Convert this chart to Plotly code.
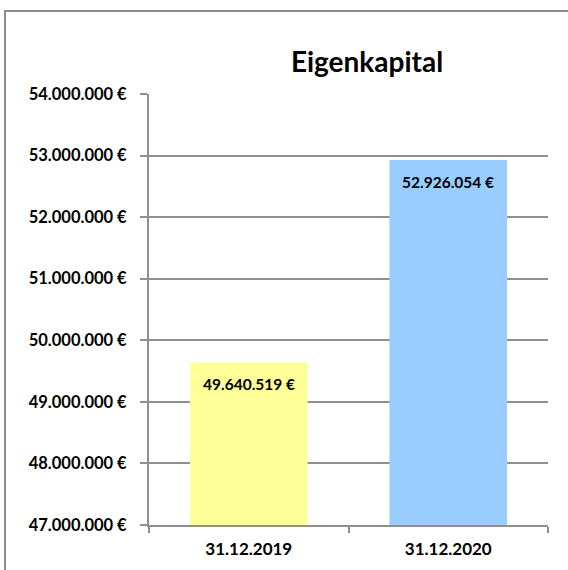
import plotly.graph_objects as go

categories = ["31.12.2019", "31.12.2020"]
values = [49640519, 52926054]
bar_colors = ["#FFFF99", "#99CCFF"]
tick_values = [47000000, 48000000, 49000000, 50000000, 51000000, 52000000, 53000000, 54000000]


def fmt(v):
    return f"{v:,}".replace(",", ".") + " €"


fig = go.Figure()
fig.add_trace(go.Bar(
    x=categories, y=values, marker=dict(color=bar_colors, line=dict(width=0)),
    hoverinfo="skip",
))

for c, v in zip(categories, values):
    fig.add_annotation(
        x=c, y=v, xref="x", yref="y", text=fmt(v), showarrow=False,
        yanchor="middle", yshift=-22,
        font=dict(family="Lato", size=15.5, color="black", weight="bold"),
    )

grid_col = "#8f8f8f"
fig.update_layout(
    width=568, height=570,
    margin=dict(l=149, r=20, t=94, b=45),
    paper_bgcolor="white", plot_bgcolor="white",
    bargap=0.41,
    showlegend=False,
    title=dict(text="<b>Eigenkapital</b>", x=367 / 568, xref="container",
               xanchor="center", y=1 - 62 / 570, yanchor="middle",
               font=dict(family="Lato", size=28, color="black")),
    xaxis=dict(
        type="category", showgrid=False, showline=True, linecolor=grid_col, linewidth=2,
        ticks="outside", tickson="boundaries", ticklen=6, tickcolor=grid_col, tickwidth=2,
        tickfont=dict(family="Lato", size=17, color="black", weight="bold"),
        ticklabelstandoff=8,
    ),
    yaxis=dict(
        range=[47000000, 54000000], tickvals=tick_values,
        ticktext=[fmt(t) for t in tick_values],
        showgrid=True, gridcolor=grid_col, gridwidth=2,
        showline=True, linecolor=grid_col, linewidth=2,
        ticks="outside", ticklen=7, tickcolor=grid_col, tickwidth=2,
        tickfont=dict(family="Lato", size=16.5, color="black", weight="bold"),
        ticklabelstandoff=10, zeroline=False,
    ),
    shapes=[dict(type="rect", xref="paper", yref="paper",
                 x0=(5 - 149) / 399, x1=(600 - 149) / 399,
                 y0=(525 - 600) / 431, y1=(525 - 11) / 431,
                 line=dict(color="#8c8c8c", width=2), fillcolor="rgba(0,0,0,0)", layer="below")],
)

fig.write_html("out.html", config={"displayModeBar": False, "staticPlot": True},
               post_script="document.body.style.margin='0px';document.body.style.overflow='hidden';")
